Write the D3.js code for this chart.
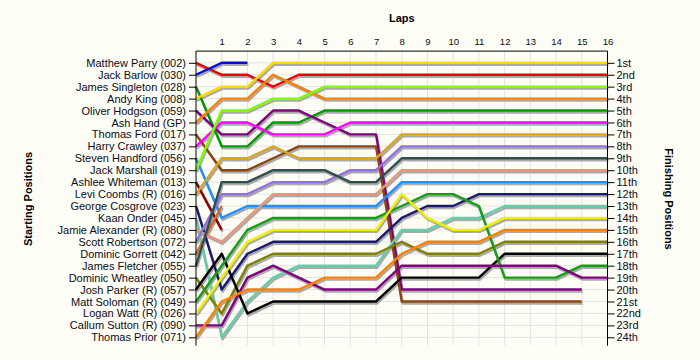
<!DOCTYPE html>
<html><head><meta charset="utf-8">
<script src="https://cdn.jsdelivr.net/npm/d3@7/dist/d3.min.js"></script>
<style>body{margin:0;background:#fefef6;} svg{display:block;}</style>
</head><body>
<svg id="chart" width="700" height="360"></svg>
<script>
// ---- data ----
const drivers = [
  "Matthew Parry (002)", "Jack Barlow (030)", "James Singleton (028)", "Andy King (008)",
  "Oliver Hodgson (059)", "Ash Hand (GP)", "Thomas Ford (017)", "Harry Crawley (037)",
  "Steven Handford (056)", "Jack Marshall (019)", "Ashlee Whiteman (013)", "Levi Coombs  (R) (016)",
  "George Cosgrove (023)", "Kaan Onder (045)", "Jamie Alexander (R) (080)", "Scott Robertson (072)",
  "Dominic Gorrett (042)", "James Fletcher (055)", "Dominic Wheatley (050)", "Josh Parker (R) (057)",
  "Matt Soloman (R) (049)", "Logan Watt (R) (026)", "Callum Sutton  (R) (090)", "Thomas Prior (071)"
];
const driverColors = [
  "#ee0000", "#0a0ad0", "#009a00", "#ffd800",
  "#800080", "#ff8000", "#8b4513", "#ff00ff",
  "#1e90ff", "#7cfc00", "#8b0000", "#daa520",
  "#191970", "#66cdaa", "#e9967a", "#9370db",
  "#d2691e", "#2f4f4f", "#808000", "#000000",
  "#12a012", "#f0f000", "#800080", "#ff8000"
];
const lapTicks = [1,2,3,4,5,6,7,8,9,10,11,12,13,14,15,16];
const finishLabels = ["1st","2nd","3rd","4th","5th","6th","7th","8th","9th","10th","11th","12th",
  "13th","14th","15th","16th","17th","18th","19th","20th","21st","22nd","23rd","24th"];

// position of each driver after each lap (index 0 = start)
const posParry     = [1,2,2,3,2,2,2,2,2,2,2,2,2,2,2,2,2];
const posBarlow    = [2,1,1];
const posSingleton = [3,8,8,6,6,5,5,5,5,5,5,5,5,5,5,5,5];
const posKing      = [4,3,3,1,1,1,1,1,1,1,1,1,1,1,1,1,1];
const posHodgson   = [5,7,7,5,5,6,7,7,20,20,20,20,20,20,20,20];
const posHand      = [6,4,4,2,3,4,4,4,4,4,4,4,4,4,4,4,4];
const posFord      = [7,10,10,9,8,8,8,8,21,21,21,21,21,21,21,21];
const posCrawley   = [8,6,6,7,7,7,6,6,6,6,6,6,6,6,6,6,6];
const posHandford  = [9,14,13,13,13,13,13,13,11,11,11,11,11,11,11,11,11];
const posMarshall  = [10,5,5,4,4,3,3,3,3,3,3,3,3,3,3,3,3];
const posWhiteman  = [11,15];
const posCoombs    = [12,9,9,8,9,9,9,9,7,7,7,7,7,7,7,7,7];
const posCosgrove  = [13,20,17,16,16,16,16,16,14,13,13,12,12,12,12,12,12];
const posOnder     = [14,24,21,19,18,18,18,18,15,15,14,14,13,13,13,13,13];
const posAlexander = [15,16,14,12,12,12,12,12,10,10,10,10,10,10,10,10,10];
const posRobertson = [16,12,12,11,11,11,10,10,8,8,8,8,8,8,8,8,8];
const posGorrett   = [17,13];
const posFletcher  = [18,11,11,10,10,10,11,11,9,9,9,9,9,9,9,9,9];
const posWheatley  = [19,22,18,17,17,17,17,17,16,17,17,17,16,16,16,16,16];
const posParker    = [20,17,22,21,21,21,21,21,19,19,19,19,17,17,17,17,17];
const posSoloman   = [21,18,15,14,14,14,14,14,13,12,12,13,19,19,19,18,18];
const posWatt      = [22,19,16,15,15,15,15,15,12,14,15,15,14,14,14,14,14];
const posSutton    = [23,23,19,18,19,20,20,20,18,18,18,18,18,18,18,19,19];
const posPrior     = [24,21,20,20,20,19,19,19,17,16,16,16,15,15,15,15,15];

const positions = [posParry,posBarlow,posSingleton,posKing,posHodgson,posHand,posFord,posCrawley,
  posHandford,posMarshall,posWhiteman,posCoombs,posCosgrove,posOnder,posAlexander,posRobertson,
  posGorrett,posFletcher,posWheatley,posParker,posSoloman,posWatt,posSutton,posPrior];

// ---- drawing ----
const svg = d3.select("#chart");
const font = "'Liberation Sans', Arial, sans-serif";
svg.append("rect").attr("width",700).attr("height",360).attr("fill","#fefef6");

const x = d3.scaleLinear().domain([0,16]).range([196,607.5]);
const y = d3.scaleLinear().domain([1,24]).range([62.8,337.3]);
const rows = finishLabels.map((d,i)=>i+1);
const yTop = y(0.02), yBot = y(24.7);

// grid
const grid = svg.append("g");
grid.selectAll("line.v").data(lapTicks).join("line").attr("class","v")
  .attr("x1",d=>x(d)).attr("x2",d=>x(d)).attr("y1",yTop).attr("y2",yBot)
  .attr("stroke","#e3e3e3").attr("stroke-width",1);
grid.selectAll("line.h").data(rows).join("line").attr("class","h")
  .attr("x1",x(0)).attr("x2",x(16)).attr("y1",d=>y(d)).attr("y2",d=>y(d))
  .attr("stroke","#e3e3e3").attr("stroke-width",1);

// lines
const line = d3.line().x(d=>x(d[0])).y(d=>y(d[1]));
const series = positions.map((arr,i)=>({color:driverColors[i], pts:arr.map((p,lap)=>[lap,p])}));
const gS = svg.append("g").attr("transform","translate(1,2)");
gS.selectAll("path").data(series).join("path")
  .attr("d",d=>line(d.pts)).attr("fill","none").attr("stroke","#a9a9a9")
  .attr("stroke-width",2.4).attr("stroke-linejoin","round");
const gL = svg.append("g");
gL.selectAll("path").data(series).join("path")
  .attr("d",d=>line(d.pts)).attr("fill","none").attr("stroke",d=>d.color)
  .attr("stroke-width",2.4).attr("stroke-linejoin","round");

// axes
const leftAx = svg.append("g").attr("transform",`translate(${x(0)},0)`)
  .call(d3.axisLeft(y).tickValues(rows).tickFormat(i=>drivers[i-1]).tickSize(7).tickPadding(3));
leftAx.select(".domain").remove();
leftAx.append("line").attr("x1",0).attr("x2",0).attr("y1",yTop).attr("y2",yBot).attr("stroke","#000");
leftAx.selectAll("text").attr("font-family",font).attr("font-size","11px").attr("fill","#0a0a1a");

const rightAx = svg.append("g").attr("transform",`translate(${x(16)},0)`)
  .call(d3.axisRight(y).tickValues(rows).tickFormat(i=>finishLabels[i-1]).tickSize(7).tickPadding(2));
rightAx.select(".domain").remove();
rightAx.append("line").attr("x1",0).attr("x2",0).attr("y1",yTop).attr("y2",yBot).attr("stroke","#000");
rightAx.selectAll("text").attr("font-family",font).attr("font-size","11px").attr("fill","#0a0a1a");

const topAx = svg.append("g").attr("transform",`translate(0,${yTop})`)
  .call(d3.axisTop(x).tickValues(lapTicks).tickSize(0).tickPadding(6));
topAx.select(".domain").remove();
topAx.append("line").attr("x1",x(0)).attr("x2",x(16)).attr("y1",0).attr("y2",0).attr("stroke","#000");
topAx.selectAll("text").attr("font-family",font).attr("font-size","9.5px").attr("fill","#0a0a1a");

// titles
svg.append("text").attr("x",(x(0)+x(16))/2).attr("y",22).attr("text-anchor","middle")
  .attr("font-family",font).attr("font-weight","bold").attr("font-size","11px").text("Laps");
svg.append("text").attr("transform","translate(32,199) rotate(-90)").attr("text-anchor","middle")
  .attr("font-family",font).attr("font-weight","bold").attr("font-size","11px").text("Starting Positions");
svg.append("text").attr("transform","translate(665,199) rotate(90)").attr("text-anchor","middle")
  .attr("font-family",font).attr("font-weight","bold").attr("font-size","11px").text("Finishing Positions");
</script>
</body></html>
